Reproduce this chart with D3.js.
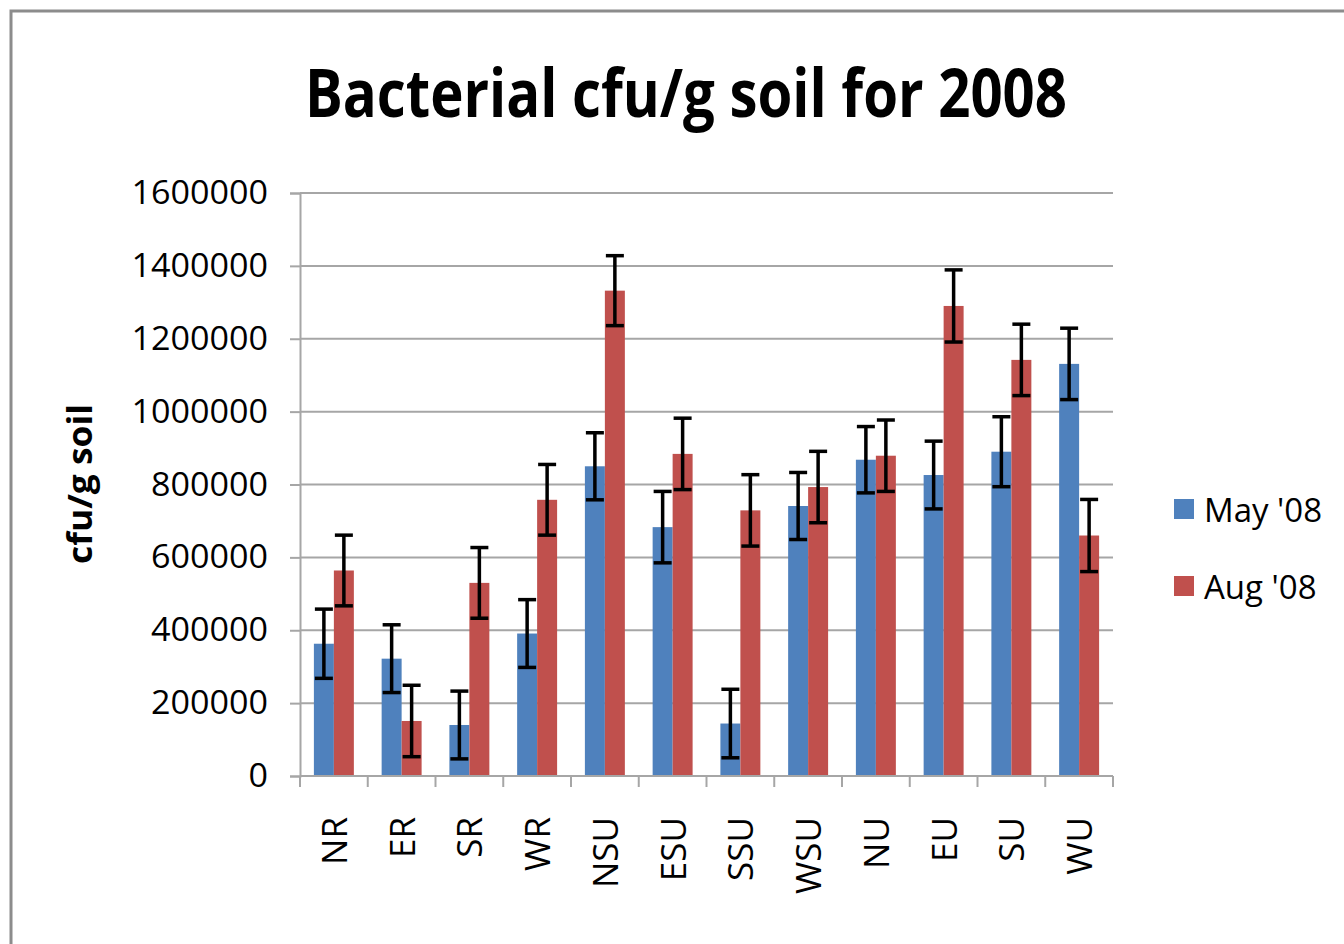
<!DOCTYPE html>
<html>
<head>
<meta charset="utf-8">
<script src="https://cdn.jsdelivr.net/npm/d3@7"></script>
<style>
  body { margin: 0; background: #fff; }
  svg { display: block; }
  text { font-family: "Open Sans", "Noto Sans", sans-serif; fill: #000; }
</style>
</head>
<body>
<script>
// data
var sites = ['NR', 'ER', 'SR', 'WR', 'NSU', 'ESU', 'SSU', 'WSU', 'NU', 'EU', 'SU', 'WU'];
var may08 = [363000, 322000, 140000, 391000, 850000, 683000, 144000, 741000, 868000, 826000, 890000, 1131000];
var aug08 = [564000, 151000, 530000, 758000, 1332000, 884000, 729000, 793000, 879000, 1290000, 1142000, 660000];
var mayErr = [95000, 93000, 93000, 93000, 92000, 98000, 94000, 92000, 91000, 93000, 96000, 98000];
var augErr = [97000, 98000, 97000, 97000, 96000, 98000, 98000, 98000, 98000, 99000, 98000, 99000];
var seriesNames = ["May '08", "Aug '08"];
var yTicks = [0, 200000, 400000, 600000, 800000, 1000000, 1200000, 1400000, 1600000];

var colors = ['#4F81BD', '#C0504D'];

var W = 1344, H = 944;
var margin = { top: 193, right: 231, bottom: 168, left: 300 },
  width = W - margin.left - margin.right,
  height = H - margin.top - margin.bottom;

var svg = d3.select('body')
  .append('svg')
  .attr('width', W)
  .attr('height', H);

// chart border
svg.append('rect')
  .attr('x', 11).attr('y', 11)
  .attr('width', W).attr('height', H)
  .attr('fill', 'none')
  .attr('stroke', '#8c8c8c')
  .attr('stroke-width', 3);

svg.append('text')
  .attr('x', 686)
  .attr('y', 117)
  .attr('text-anchor', 'middle')
  .attr('textLength', 762)
  .attr('lengthAdjust', 'spacingAndGlyphs')
  .style('font-size', '66px')
  .style('font-weight', 'bold')
  .text('Bacterial cfu/g soil for 2008');

var g = svg.append('g')
  .attr('transform', 'translate(' + margin.left + ',' + margin.top + ')');

var x0 = d3.scaleBand()
  .domain(sites)
  .range([0, width])
  .paddingInner(0.41)
  .paddingOuter(0.205);

var x1 = d3.scaleBand()
  .domain([0, 1])
  .range([0, x0.bandwidth()]);

var y = d3.scaleLinear()
  .domain([0, 1600000])
  .range([height, 0]);

// gridlines
g.selectAll('.grid')
  .data(yTicks.slice(1))
  .enter()
  .append('line')
  .attr('class', 'grid')
  .attr('x1', 0)
  .attr('x2', width)
  .attr('y1', function (d) { return y(d); })
  .attr('y2', function (d) { return y(d); })
  .attr('stroke', '#a6a6a6')
  .attr('stroke-width', 2);

// y axis
var yAxis = d3.axisLeft(y).tickValues(yTicks).tickSize(10).tickPadding(22).tickFormat(d3.format('d'));
var yg = g.append('g').call(yAxis);
yg.select('.domain').attr('stroke', '#a6a6a6').attr('stroke-width', 2);
yg.selectAll('.tick line').attr('stroke', '#a6a6a6').attr('stroke-width', 2);
yg.selectAll('.tick text')
  .style('font-size', '33px')
  .attr('lengthAdjust', 'spacingAndGlyphs')
  .attr('fill', '#000');
yg.selectAll('.tick text').each(function (d) {
  var s = d3.format('d')(d);
  d3.select(this).attr('textLength', s.length * 19.5);
});

var data = sites.map(function (s, i) {
  return { site: s, vals: [may08[i], aug08[i]], errs: [mayErr[i], augErr[i]] };
});

var groups = g.selectAll('.site')
  .data(data)
  .enter()
  .append('g')
  .attr('class', 'site')
  .attr('transform', function (d) { return 'translate(' + x0(d.site) + ',0)'; });

groups.selectAll('rect')
  .data(function (d) { return d.vals.map(function (v, k) { return { k: k, v: v }; }); })
  .enter()
  .append('rect')
  .attr('x', function (d) { return x1(d.k); })
  .attr('width', x1.bandwidth())
  .attr('y', function (d) { return y(d.v); })
  .attr('height', function (d) { return height - y(d.v); })
  .attr('fill', function (d) { return colors[d.k]; });

// error bars
var eb = groups.selectAll('.err')
  .data(function (d) { return d.vals.map(function (v, k) { return { k: k, v: v, e: d.errs[k] }; }); })
  .enter()
  .append('g')
  .attr('class', 'err')
  .attr('stroke', '#000')
  .attr('stroke-width', 3.5);

eb.append('line')
  .attr('x1', function (d) { return x1(d.k) + x1.bandwidth() / 2; })
  .attr('x2', function (d) { return x1(d.k) + x1.bandwidth() / 2; })
  .attr('y1', function (d) { return y(d.v + d.e); })
  .attr('y2', function (d) { return y(d.v - d.e); });

eb.selectAll('.cap')
  .data(function (d) { return [d.v + d.e, d.v - d.e].map(function (t) { return { k: d.k, t: t }; }); })
  .enter()
  .append('line')
  .attr('x1', function (d) { return x1(d.k) + x1.bandwidth() / 2 - 9; })
  .attr('x2', function (d) { return x1(d.k) + x1.bandwidth() / 2 + 9; })
  .attr('y1', function (d) { return y(d.t); })
  .attr('y2', function (d) { return y(d.t); });

// x axis: baseline and boundary ticks
g.append('line')
  .attr('x1', 0).attr('x2', width)
  .attr('y1', height).attr('y2', height)
  .attr('stroke', '#a6a6a6').attr('stroke-width', 2);

var step = x0.step();
g.selectAll('.xtick')
  .data(d3.range(sites.length + 1))
  .enter()
  .append('line')
  .attr('x1', function (i) { return x0(sites[0]) - x0.paddingOuter() * step + i * step; })
  .attr('x2', function (i) { return x0(sites[0]) - x0.paddingOuter() * step + i * step; })
  .attr('y1', height)
  .attr('y2', height + 11)
  .attr('stroke', '#a6a6a6')
  .attr('stroke-width', 2);

g.selectAll('.xlabel')
  .data(sites)
  .enter()
  .append('text')
  .attr('transform', function (d) {
    return 'translate(' + (x0(d) + x0.bandwidth() / 2 + 13) + ',' + (height + 41) + ') rotate(-90)';
  })
  .attr('text-anchor', 'end')
  .style('font-size', '35px')
  .text(function (d) { return d; });

// y axis title
svg.append('text')
  .attr('transform', 'translate(92,484) rotate(-90)')
  .attr('text-anchor', 'middle')
  .attr('textLength', 160)
  .attr('lengthAdjust', 'spacingAndGlyphs')
  .style('font-size', '34px')
  .style('font-weight', 'bold')
  .text('cfu/g soil');

// legend
var legend = svg.selectAll('.legend')
  .data(seriesNames)
  .enter()
  .append('g')
  .attr('class', 'legend')
  .attr('transform', function (d, i) { return 'translate(1174,' + (499 + i * 77) + ')'; });

legend.append('rect')
  .attr('width', 20)
  .attr('height', 20)
  .attr('fill', function (d, i) { return colors[i]; });

legend.append('text')
  .attr('x', 30)
  .attr('y', 23)
  .style('font-size', '33px')
  .text(function (d) { return d; });
</script>
</body>
</html>
